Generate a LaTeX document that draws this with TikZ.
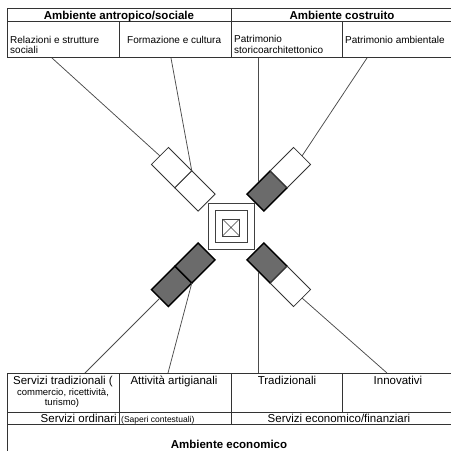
\documentclass[tikz,border=0pt]{standalone}
\usepackage{fontspec}
\setmainfont{Liberation Sans}
\begin{document}
\begin{tikzpicture}[x=1pt,y=-1pt,
  tline/.style={draw=black!80,line width=0.8pt},
  conn/.style={draw=black!70,line width=0.75pt},
  cellw/.style={draw=black!80,line width=0.8pt,fill=white,minimum width=33pt,minimum height=24pt,inner sep=0pt,outer sep=0pt},
  celld/.style={cellw,draw=black,line width=1.4pt,fill=black!58},
  sqbox/.style={draw=black!75,line width=0.8pt,inner sep=0pt,outer sep=0pt},
  hd/.style={font=\fontsize{11.5}{13}\selectfont\bfseries,inner sep=0pt,anchor=base},
  tx/.style={font=\fontsize{10}{10}\selectfont,inner sep=0pt,anchor=base west},
  bt/.style={font=\fontsize{11.5}{13}\selectfont,inner sep=0pt,anchor=base},
  sm/.style={font=\fontsize{9.5}{10}\selectfont,inner sep=0pt,anchor=base},
]
\useasboundingbox (0,0) rectangle (451,451);
\fill[white] (0,0) rectangle (451,451);

% ---------- top table ----------
\draw[tline] (451,8) -- (7,8) -- (7,57) -- (451,57);
\draw[tline] (7,21.5) -- (451,21.5);
\draw[tline] (231,8) -- (231,57);
\draw[tline] (119,21.5) -- (119,57);
\draw[tline] (342,21.5) -- (342,57);

\node[hd] (hA) at (119,19) {Ambiente antropico/sociale};
\node[hd] (hB) at (342,19) {Ambiente costruito};
\node[tx] (r1a) at (10,43) {Relazioni e strutture};
\node[tx] (r1b) at (10,53) {sociali};
\node[tx] (r2) at (127,43) {Formazione e cultura};
\node[tx] (r3a) at (234,42) {Patrimonio};
\node[tx] (r3b) at (234,53) {storicoarchitettonico};
\node[tx] (r4) at (345,43) {Patrimonio ambientale};

% ---------- bottom table ----------
\draw[tline] (451,373) -- (7,373) -- (7,451);
\draw[tline] (7,412) -- (451,412);
\draw[tline] (7,424) -- (451,424);
\draw[tline] (231,373) -- (231,424);
\draw[tline] (119,373) -- (119,424);
\draw[tline] (342,373) -- (342,412);

\node[bt] (s1a) at (63,384) {Servizi tradizionali (};
\node[sm] (s1b) at (63,395) {commercio, ricettività,};
\node[sm] (s1c) at (62,405) {turismo)};
\node[bt] (s2) at (174,384) {Attività artigianali};
\node[bt] (s3) at (287,384) {Tradizionali};
\node[bt] (s4) at (398,384) {Innovativi};
\node[bt,anchor=base east] (o1) at (117,422.5) {Servizi ordinari};
\node[font=\fontsize{8.5}{9}\selectfont,inner sep=0pt,anchor=base west] (o2) at (121,422.5) {(Saperi contestuali)};
\node[bt] (o3) at (339,422.5) {Servizi economico/finanziari};
\node[hd] (ec) at (229,448.5) {Ambiente economico};

% ---------- connector ends ----------
\coordinate (topline) at (0,58);
\coordinate (botline) at (0,373);
\coordinate (t1) at (52,58);
\coordinate (t2) at (171,58);
\coordinate (t4) at (367,58);
\coordinate (b1) at (85,373);
\coordinate (b2) at (168,373);
\coordinate (b4) at (387,373);

% ---------- centre ----------
\node[sqbox,minimum size=46pt] (sq1) at (231,226.5) {};
\node[sqbox,minimum size=32pt,line width=1pt] (sq2) at (231,226.5) {};
\node[sqbox,minimum size=17pt,line width=1pt] (sq3) at (231,227.5) {};
\draw[black!75,line width=0.6pt] (sq3.north west) -- (sq3.south east)
      (sq3.north east) -- (sq3.south west);

% ---------- cell pairs ----------
\node[cellw,rotate=-45] (ulin) at (194.94,190.94) {};
\node[cellw,rotate=-45] (ulo)  at (171.6,167.6) {};
\node[celld,rotate=45]  (urin) at (267.06,190.94) {};
\node[cellw,rotate=45]  (uro)  at (290.4,167.6) {};
\node[celld,rotate=-45] (lrin) at (267.06,263.06) {};
\node[cellw,rotate=-45] (lro)  at (290.4,286.4) {};
\node[celld,rotate=45]  (llin) at (194.94,263.06) {};
\node[celld,rotate=45]  (llo)  at (171.6,286.4) {};

% ---------- connectors ----------
\draw[conn] (t1) -- (ulo.west);
\draw[conn] (t2) -- (ulo.north east);
\draw[conn] (urin.north |- topline) -- (urin.north);
\draw[conn] (t4) -- (uro.east);
\draw[conn] (llo.west) -- (b1);
\draw[conn] (llo.south east) -- (b2);
\draw[conn] (lrin.south) -- (lrin.south |- botline);
\draw[conn] (lro.east) -- (b4);
\end{tikzpicture}
\end{document}
